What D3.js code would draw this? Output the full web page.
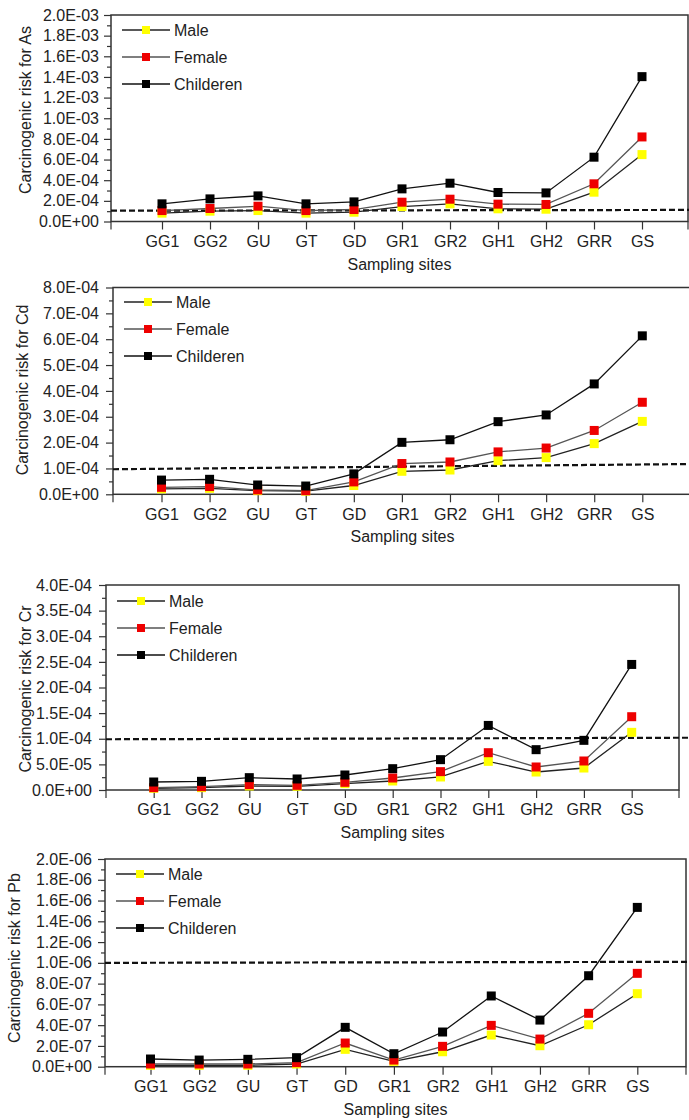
<!DOCTYPE html>
<html>
<head>
<meta charset="utf-8">
<script src="https://cdn.jsdelivr.net/npm/d3@7"></script>
<style>
  body { margin: 0; background: #fff; }
  svg { display: block; font-family: "Liberation Sans", Arial, sans-serif; }
  .tick text { font-size: 16px; fill: #222; }
  .tick line, .domain { stroke: #333; stroke-width: 1.2; }
</style>
</head>
<body>
<svg id="chart" width="689" height="1120"></svg>
<script>
const sites = ["GG1", "GG2", "GU", "GT", "GD", "GR1", "GR2", "GH1", "GH2", "GRR", "GS"];
const seriesNames = ["Male", "Female", "Childeren"];
const metals = ["As", "Cd", "Cr", "Pb"];

// carcinogenic risk values
const asMale   = [8.1e-5, 1.0e-4, 1.06e-4, 8.1e-5, 9.0e-5, 1.45e-4, 1.71e-4, 1.23e-4, 1.19e-4, 2.84e-4, 6.48e-4];
const asFemale = [1.06e-4, 1.26e-4, 1.48e-4, 1.06e-4, 1.16e-4, 1.87e-4, 2.16e-4, 1.68e-4, 1.65e-4, 3.65e-4, 8.19e-4];
const asChild  = [1.71e-4, 2.19e-4, 2.48e-4, 1.71e-4, 1.9e-4, 3.16e-4, 3.71e-4, 2.81e-4, 2.77e-4, 6.23e-4, 1.403e-3];

const cdMale   = [2.1e-5, 2.3e-5, 1.4e-5, 1.2e-5, 3.4e-5, 8.9e-5, 9.4e-5, 1.30e-4, 1.42e-4, 1.96e-4, 2.82e-4];
const cdFemale = [2.7e-5, 3.0e-5, 1.7e-5, 1.4e-5, 4.8e-5, 1.19e-4, 1.25e-4, 1.64e-4, 1.79e-4, 2.47e-4, 3.56e-4];
const cdChild  = [5.5e-5, 5.8e-5, 3.6e-5, 3.2e-5, 7.9e-5, 2.01e-4, 2.11e-4, 2.81e-4, 3.07e-4, 4.27e-4, 6.13e-4];

const crMale   = [3.3e-6, 4.6e-6, 7.8e-6, 7.2e-6, 1.24e-5, 1.76e-5, 2.54e-5, 5.59e-5, 3.51e-5, 4.29e-5, 1.125e-4];
const crFemale = [4.6e-6, 6.5e-6, 1.04e-5, 9.1e-6, 1.5e-5, 2.34e-5, 3.58e-5, 7.28e-5, 4.49e-5, 5.66e-5, 1.43e-4];
const crChild  = [1.56e-5, 1.69e-5, 2.41e-5, 2.15e-5, 2.93e-5, 4.16e-5, 5.92e-5, 1.26e-4, 7.87e-5, 9.69e-5, 2.45e-4];

const pbMale   = [1.3e-8, 1.3e-8, 1.3e-8, 2.6e-8, 1.67e-7, 5.1e-8, 1.44e-7, 3.05e-7, 2.02e-7, 4.04e-7, 7.03e-7];
const pbFemale = [2.6e-8, 2.6e-8, 2.6e-8, 3.9e-8, 2.28e-7, 6.4e-8, 1.96e-7, 3.98e-7, 2.66e-7, 5.14e-7, 8.99e-7];
const pbChild  = [7.4e-8, 6.4e-8, 7.1e-8, 8.7e-8, 3.79e-7, 1.25e-7, 3.34e-7, 6.81e-7, 4.49e-7, 8.76e-7, 1.534e-6];

// y axis extent and tick step per metal
const yMax  = [2e-3, 8e-4, 4e-4, 2e-6];
const yStep = [2e-4, 1e-4, 5e-5, 2e-7];

// dashed guideline, value at the left and at the right end
const guideStart = [1.05e-4, 0.97e-4, 0.99e-4, 1.0e-6];
const guideEnd   = [1.12e-4, 1.17e-4, 1.02e-4, 1.01e-6];

const seriesData = [
  [asMale, asFemale, asChild],
  [cdMale, cdFemale, cdChild],
  [crMale, crFemale, crChild],
  [pbMale, pbFemale, pbChild]
];

// layout of the four stacked panels
const frames = [
  { left: 111, right: 688, top: 15,    bottom: 221.5,  first: 162,   last: 642,   labelRight: 99, titleX: 25, titleY: 110, legendY: 30 },
  { left: 113, right: 692, top: 287.5, bottom: 494.3,  first: 161.5, last: 642.3, labelRight: 99, titleX: 22, titleY: 390, legendY: 302 },
  { left: 106, right: 679, top: 585,   bottom: 790,    first: 153.7, last: 631.7, labelRight: 92, titleX: 25, titleY: 689, legendY: 601 },
  { left: 105, right: 686, top: 859,   bottom: 1066.7, first: 150.5, last: 637.3, labelRight: 92, titleX: 14, titleY: 958, legendY: 874 }
];

const markerFill = ["#ffff00", "#ee0000", "#000000"];
const lineStroke = ["#222", "#555", "#111"];
const mk = 9;

const svg = d3.select("#chart");
svg.append("rect").attr("width", 689).attr("height", 1120).attr("fill", "#fff");

function sci(v) {
  if (v === 0) return "0.0E+00";
  const e = Math.floor(Math.log10(v) + 1e-9);
  const m = v / Math.pow(10, e);
  return m.toFixed(1) + "E" + (e < 0 ? "-" : "+") + String(Math.abs(e)).padStart(2, "0");
}

metals.forEach((metal, p) => {
  const f = frames[p];
  const g = svg.append("g");

  const x = d3.scalePoint().domain(sites).range([f.first, f.last]);
  const y = d3.scaleLinear().domain([0, yMax[p]]).range([f.bottom, f.top]);

  const n = Math.round(yMax[p] / yStep[p]);
  const majors = d3.range(n + 1).map(i => i * yStep[p]);
  const minors = d3.range(n).map(i => (i + 0.5) * yStep[p]);

  // y axis, major + minor ticks
  const yAxis = g.append("g")
    .attr("transform", `translate(${f.left},0)`)
    .call(d3.axisLeft(y).tickValues(majors).tickFormat(sci).tickSize(7).tickPadding(f.left - f.labelRight - 7));
  yAxis.select(".domain").remove();

  g.append("g")
    .attr("transform", `translate(${f.left},0)`)
    .call(d3.axisLeft(y).tickValues(minors).tickFormat("").tickSize(4))
    .select(".domain").remove();

  // x axis, ticks at each site and at the frame ends
  const xAxis = g.append("g")
    .attr("transform", `translate(0,${f.bottom})`)
    .call(d3.axisBottom(x).tickSize(8).tickPadding(6));
  xAxis.select(".domain").remove();
  [f.left, f.right].forEach(px => {
    g.append("line")
      .attr("x1", px).attr("x2", px)
      .attr("y1", f.bottom).attr("y2", f.bottom + 8)
      .attr("stroke", "#333").attr("stroke-width", 1.2);
  });

  // frame
  g.append("rect")
    .attr("x", f.left).attr("y", f.top)
    .attr("width", f.right - f.left).attr("height", f.bottom - f.top)
    .attr("fill", "none").attr("stroke", "#333").attr("stroke-width", 1.5);

  // axis titles
  g.append("text")
    .attr("x", (f.left + f.right) / 2)
    .attr("y", f.bottom + 48)
    .attr("text-anchor", "middle")
    .attr("font-size", 16).attr("fill", "#222")
    .text("Sampling sites");

  g.append("text")
    .attr("transform", `translate(${f.titleX},${f.titleY}) rotate(-90)`)
    .attr("text-anchor", "middle")
    .attr("dy", "0.35em")
    .attr("font-size", 16).attr("fill", "#222")
    .text(`Carcinogenic risk for ${metal}`);

  // dashed guideline
  g.append("line")
    .attr("x1", f.left).attr("x2", 689)
    .attr("y1", y(guideStart[p])).attr("y2", y(guideEnd[p]))
    .attr("stroke", "#111").attr("stroke-width", 2.2)
    .attr("stroke-dasharray", "6,3");

  // series
  const line = d3.line().x((d, i) => x(sites[i])).y(d => y(d));
  seriesData[p].forEach((vals, s) => {
    g.append("path")
      .datum(vals)
      .attr("d", line)
      .attr("fill", "none")
      .attr("stroke", lineStroke[s])
      .attr("stroke-width", 1.3);
  });
  seriesData[p].forEach((vals, s) => {
    g.selectAll(null)
      .data(vals)
      .join("rect")
      .attr("x", (d, i) => x(sites[i]) - mk / 2)
      .attr("y", d => y(d) - mk / 2)
      .attr("width", mk).attr("height", mk)
      .attr("fill", markerFill[s]);
  });

  // legend
  const lx1 = f.left + 11, lx2 = f.left + 59;
  seriesNames.forEach((name, s) => {
    const ly = f.legendY + s * 27;
    g.append("line")
      .attr("x1", lx1).attr("x2", lx2).attr("y1", ly).attr("y2", ly)
      .attr("stroke", lineStroke[s]).attr("stroke-width", 1.3);
    g.append("rect")
      .attr("x", (lx1 + lx2) / 2 - 4).attr("y", ly - 4)
      .attr("width", 8).attr("height", 8)
      .attr("fill", markerFill[s]);
    g.append("text")
      .attr("x", lx2 + 4).attr("y", ly)
      .attr("dy", "0.35em")
      .attr("font-size", 16).attr("fill", "#222")
      .text(name);
  });
});
</script>
</body>
</html>
